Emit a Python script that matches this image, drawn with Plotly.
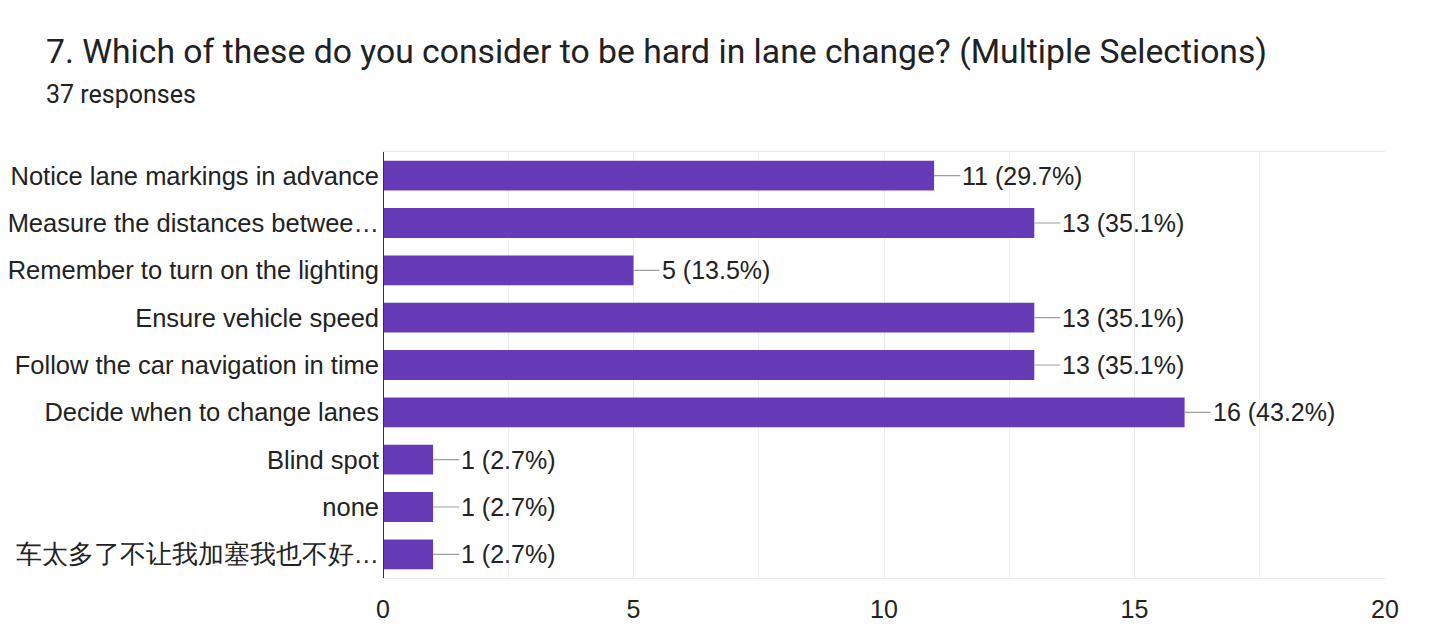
import plotly.graph_objects as go

categories = [
    "Notice lane markings in advance",
    "Measure the distances betwee…",
    "Remember to turn on the lighting",
    "Ensure vehicle speed",
    "Follow the car navigation in time",
    "Decide when to change lanes",
    "Blind spot",
    "none",
    "车太多了不让我加塞我也不好…",
]
counts = [11, 13, 5, 13, 13, 16, 1, 1, 1]
percents = ["29.7%", "35.1%", "13.5%", "35.1%", "35.1%", "43.2%", "2.7%", "2.7%", "2.7%"]
x_ticks = [0, 5, 10, 15, 20]

# page body has an 8px margin, so the figure is drawn 8px in
W, H = 1440, 636
L, R, T, B = 375, 63, 144, 66
PW, PH = W - L - R, H - T - B

fig = go.Figure()
fig.add_trace(go.Bar(
    x=counts, y=categories, orientation="h",
    marker=dict(color="#673ab7", line=dict(width=0)),
    hoverinfo="x+y",
))

for c, n, p in zip(categories, counts, percents):
    fig.add_annotation(
        x=n, y=c, xref="x", yref="y",
        text=f"{n} ({p})", showarrow=True, arrowhead=0, arrowwidth=1.2,
        arrowcolor="#9e9e9e", ax=26, ay=0, xanchor="left", yanchor="middle",
        standoff=0, startstandoff=0,
        font=dict(family="Liberation Sans, Arial, sans-serif", size=25, color="#222222"),
    )

fig.add_annotation(
    xref="paper", yref="paper", x=-(L - 36) / PW, y=1 + (T - 65) / PH,
    text="7. Which of these do you consider to be hard in lane change? (Multiple Selections)",
    showarrow=False, xanchor="left", yanchor="bottom",
    font=dict(family="Roboto, sans-serif", size=33.7, color="#202124"),
)
fig.add_annotation(
    xref="paper", yref="paper", x=-(L - 36) / PW, y=1 + (T - 103) / PH,
    text="37 responses",
    showarrow=False, xanchor="left", yanchor="bottom",
    font=dict(family="Roboto, sans-serif", size=25, color="#202124"),
)

fig.update_layout(
    width=W, height=H,
    margin=dict(l=L, r=R, t=T, b=B),
    paper_bgcolor="white", plot_bgcolor="white",
    showlegend=False,
    bargap=0.37,
    font=dict(family="Liberation Sans, Arial, sans-serif", size=25, color="#222222"),
    xaxis=dict(
        range=[0, 20], tickvals=x_ticks, ticktext=[str(v) for v in x_ticks],
        showgrid=True, gridcolor="#ebebeb", gridwidth=1,
        minor=dict(dtick=2.5, showgrid=True, gridcolor="#f0f0f0", gridwidth=1),
        zeroline=False, showline=True, linecolor="#ebebeb", mirror=True,
        ticks="", ticklabelstandoff=9, automargin=False,
        tickfont=dict(size=25, color="#222222"),
        fixedrange=True,
    ),
    yaxis=dict(
        autorange="reversed", showgrid=False, zeroline=False,
        ticks="", ticklabelstandoff=3, automargin=False,
        tickfont=dict(size=25.5, color="#222222"),
        fixedrange=True,
    ),
    shapes=[dict(type="line", xref="x", yref="paper", x0=0, x1=0, y0=0, y1=1,
                 line=dict(color="#333333", width=2))],
)

fig.write_html("out.html")
